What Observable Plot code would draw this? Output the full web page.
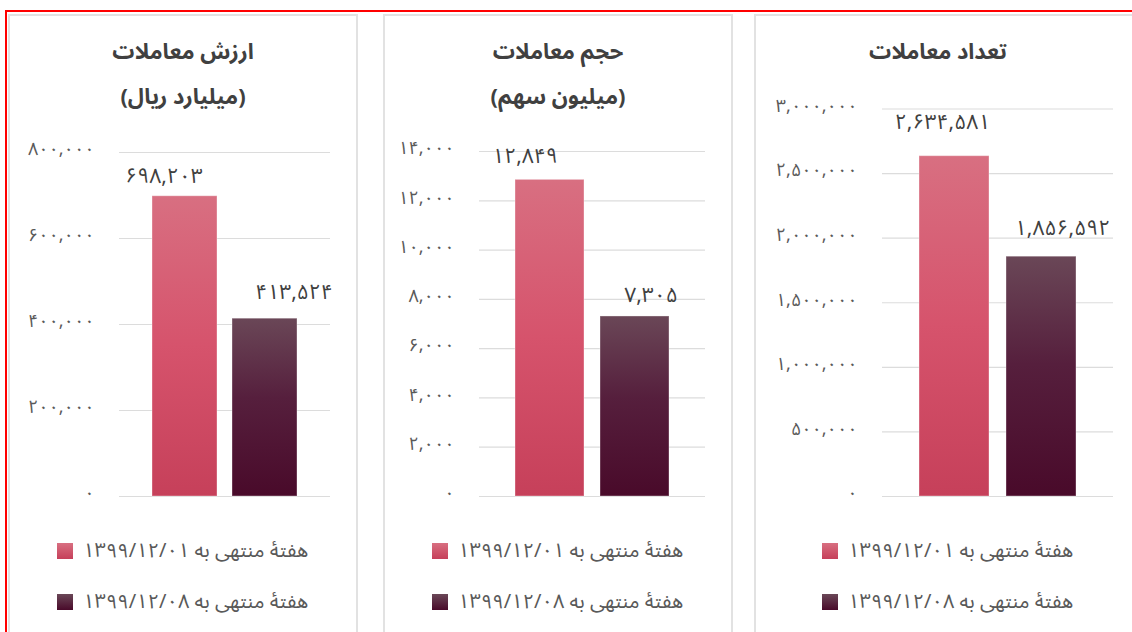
<!DOCTYPE html>
<html>
<head>
<meta charset="utf-8">
<script src="https://cdn.jsdelivr.net/npm/d3@7"></script>
<script src="https://cdn.jsdelivr.net/npm/@observablehq/plot@0.6"></script>
<style>
  html, body { margin: 0; padding: 0; background: #fff; }
  #page { position: relative; width: 1132px; height: 632px; overflow: hidden; font-family: "Noto Sans Arabic", "Vazirmatn", "DejaVu Sans", sans-serif; }
  .frame { position: absolute; left: 5px; top: 10px; width: 1200px; height: 700px; border-top: 2px solid #f00; border-left: 2px solid #f00; box-sizing: border-box; }
  .panel { position: absolute; top: 14px; height: 700px; border: 2px solid #e2e2e2; box-sizing: border-box; background: #fff; }
  .title { position: absolute; text-align: center; direction: rtl; color: #404040; font-weight: bold; font-size: 22px; line-height: 45px; transform: translateX(-50%); white-space: nowrap; }
  .legend { position: absolute; display: flex; align-items: center; color: #595959; font-size: 20px; white-space: nowrap; }
  .legend .sw { width: 16px; height: 16px; margin-right: 10px; }
  .legend .lb { direction: rtl; }
</style>
</head>
<body>
<svg width="0" height="0" style="position:absolute">
  <defs>
    <linearGradient id="gPink" x1="0" y1="0" x2="0" y2="1">
      <stop offset="0%" stop-color="#d86f81"/>
      <stop offset="50%" stop-color="#d6536c"/>
      <stop offset="100%" stop-color="#c6405a"/>
    </linearGradient>
    <linearGradient id="gDark" x1="0" y1="0" x2="0" y2="1">
      <stop offset="0%" stop-color="#6a4757"/>
      <stop offset="45%" stop-color="#561f3d"/>
      <stop offset="100%" stop-color="#490a2a"/>
    </linearGradient>
  </defs>
</svg>
<div id="page"><div class="frame"></div></div>
<script>
// ---- data ----
const weeks = ["هفتهٔ منتهی به ۱۳۹۹/۱۲/۰۱", "هفتهٔ منتهی به ۱۳۹۹/۱۲/۰۸"];
const valueTrade = [698203, 413524];      // ارزش معاملات (میلیارد ریال)
const volumeTrade = [12849, 7305];        // حجم معاملات (میلیون سهم)
const countTrade = [2634581, 1856592];    // تعداد معاملات
const valueTicks = [0, 200000, 400000, 600000, 800000];
const volumeTicks = [0, 2000, 4000, 6000, 8000, 10000, 12000, 14000];
const countTicks = [0, 500000, 1000000, 1500000, 2000000, 2500000, 3000000];
const titleValue = ["ارزش معاملات", "(میلیارد ریال)"];
const titleVolume = ["حجم معاملات", "(میلیون سهم)"];
const titleCount = ["تعداد معاملات"];

// ---- styles / layout ----
const fills = ["url(#gPink)", "url(#gDark)"];
const swatchCss = ["linear-gradient(#d86f81,#c6405a)", "linear-gradient(#6a4757,#490a2a)"];
const fa = s => String(s).replace(/\d/g, d => "۰۱۲۳۴۵۶۷۸۹"[d]);
const fmt = v => fa(d3.format(",")(v));
const FONT = "Noto Sans Arabic, Vazirmatn, DejaVu Sans, sans-serif";

const panels = [
  {values: valueTrade, ticks: valueTicks, title: titleValue, left: 8, width: 350,
   mL: 111, mR: 28, mT: 62, titleX: 183, legendX: 57, ldx: [-21, 29], ldy: [-20, -26]},
  {values: volumeTrade, ticks: volumeTicks, title: titleVolume, left: 383, width: 350,
   mL: 96, mR: 28, mT: 61, titleX: 558, legendX: 432, ldx: [-25, 16], ldy: [-24, -21]},
  {values: countTrade, ticks: countTicks, title: titleCount, left: 754, width: 380,
   mL: 128, mR: 21, mT: 18.5, titleX: 938, legendX: 822, ldx: [-12, 21], ldy: [-34, -28]}
];

const page = document.getElementById("page");
const H = 430, mB = 24;

panels.forEach((p, i) => {
  const box = document.createElement("div");
  box.className = "panel";
  box.style.left = p.left + "px";
  box.style.width = (i < 2 ? p.width : p.width + 400) + "px";
  page.appendChild(box);
});

panels.forEach(p => {
  const data = weeks.map((w, i) => ({week: w, value: p.values[i], idx: i}));
  const marks = [
    Plot.gridY(p.ticks, {stroke: "#dcdcdc", strokeOpacity: 1, strokeWidth: 1.2}),
    Plot.barY(data, {x: "week", y: "value", fill: (d) => fills[d.idx], stroke: "#ffffff", strokeOpacity: 0.35, strokeWidth: 1}),
    Plot.axisY(p.ticks, {tickSize: 0, tickPadding: 25, tickFormat: fmt, fontSize: 18, fill: "#595959", dy: -3, label: null})
  ];
  data.forEach((d, i) => {
    marks.push(Plot.text([d], {x: "week", y: "value", text: dd => fmt(dd.value), dx: p.ldx[i], dy: p.ldy[i],
      fontSize: 21, fill: "#404040", lineAnchor: "middle"}));
  });
  const chart = Plot.plot({
    width: p.width, height: H,
    marginLeft: p.mL, marginRight: p.mR, marginTop: p.mT, marginBottom: mB,
    x: {domain: weeks, paddingInner: 0.19, paddingOuter: 0.41, axis: null},
    y: {domain: [0, p.ticks[p.ticks.length - 1]], axis: null},
    style: {fontFamily: FONT, background: "transparent", overflow: "visible"},
    marks
  });
  chart.style.left = p.left + "px";
  chart.style.position = "absolute";
  chart.style.top = "90px";
  page.appendChild(chart);

  const t = document.createElement("div");
  t.className = "title";
  t.style.left = p.titleX + "px";
  t.style.top = "30px";
  t.innerHTML = p.title.map(s => `<div>${s}</div>`).join("");
  page.appendChild(t);

  weeks.forEach((w, i) => {
    const lg = document.createElement("div");
    lg.className = "legend";
    lg.style.left = p.legendX + "px";
    lg.style.top = (538 + i * 51) + "px";
    lg.style.height = "26px";
    lg.innerHTML = `<div class="sw" style="background:${swatchCss[i]}"></div><div class="lb">${w}</div>`;
    page.appendChild(lg);
  });
});
</script>
</body>
</html>
